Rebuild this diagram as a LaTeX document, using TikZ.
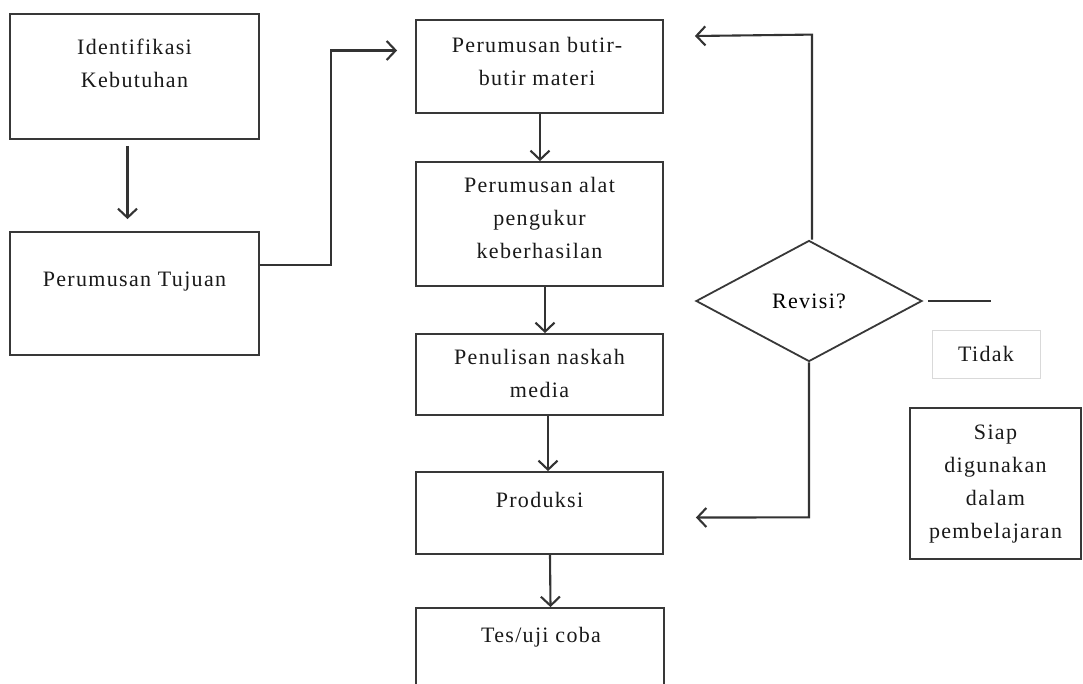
\documentclass[tikz,border=0pt]{standalone}
\usepackage{fontspec}
\setmainfont{Liberation Serif}[LetterSpace=6]
\usetikzlibrary{shapes.geometric,arrows.meta}
\tikzset{
  box/.style={draw=black!78, line width=1.8pt, rectangle, inner sep=0pt},
  txt/.style={align=center, font=\fontsize{22}{33}\selectfont, inner sep=0pt, text=black!90},
  arr/.style={draw=black!80, line width=2.1pt, -{Straight Barb[length=9pt,width=19pt,line width=2.1pt]}},
  ln/.style={draw=black!80, line width=2.1pt}
}
\begin{document}
\begin{tikzpicture}[x=1pt,y=-1pt]
\useasboundingbox (0,0) rectangle (1083,684);
\clip (0,0) rectangle (1083,684);
% left column
\node[box, minimum width=249pt, minimum height=125pt] (b1) at (134.5,76.5) {};
\node[txt] (t1) at (134.5,63.5) {Identifikasi\\Kebutuhan};
\node[box, minimum width=249pt, minimum height=123pt] (b2) at (134.5,293.5) {};
\node[txt] (t2) at (134.5,282) {Perumusan Tujuan};
% middle column
\node[box, minimum width=247pt, minimum height=93pt] (m1) at (539.5,66.5) {};
\node[txt] (tm1) at (537,61) {Perumusan butir-\\butir materi};
\node[box, minimum width=247pt, minimum height=124pt] (m2) at (539.5,224) {};
\node[txt] (tm2) at (539.5,217.5) {Perumusan alat\\pengukur\\keberhasilan};
\node[box, minimum width=247pt, minimum height=81pt] (m3) at (539.5,374.5) {};
\node[txt] (tm3) at (539.5,373.5) {Penulisan naskah\\media};
\node[box, minimum width=247pt, minimum height=82pt] (m4) at (539.5,513) {};
\node[txt] (tm4) at (539.5,500) {Produksi};
\node[box, minimum width=248pt, minimum height=120pt] (m5) at (540,668) {};
\node[txt] (tm5) at (541,637) {Tes/uji coba};
% decision
\node[draw=black!78, line width=1.8pt, diamond, minimum width=226pt, minimum height=121pt, inner sep=0pt, font=\fontsize{22}{33}\selectfont] (d) at (809,301) {Revisi?};
\node[draw=black!15, line width=0.8pt, rectangle, minimum width=108pt, minimum height=48pt, inner sep=0pt] (tidak) at (986,354) {};
\node[txt] (ttidak) at (986,354) {Tidak};
\node[box, minimum width=171pt, minimum height=151pt] (siap) at (995.5,483.5) {};
\node[txt] (tsiap) at (995.5,484.5) {Siap\\digunakan\\dalam\\pembelajaran};
% connectors
\draw[arr] ([xshift=-7pt,yshift=-6pt]b1.south) -- ([xshift=-7pt,yshift=12pt]b2.north);
\draw[arr] ([yshift=28.5pt]b2.east) -- ++(71,0) |- ([xshift=-18pt,yshift=16pt]m1.west);
\draw[arr] ([xshift=0.5pt]m1.south) -- ([xshift=0.5pt]m2.north);
\draw[arr] ([xshift=5.5pt]m2.south) -- ([xshift=5.5pt]m3.north);
\draw[arr] ([xshift=8.5pt]m3.south) -- ([xshift=8.5pt]m4.north);
\draw[arr] ([xshift=10.5pt]m4.south) -- ([xshift=10.5pt]m5.north);
\draw[arr] ([xshift=3pt]d.north) -- ++(0,-205) -- ([xshift=31pt,yshift=30.5pt]m1.east);
\draw[arr] (d.south) -- ++(0,155) -- ([xshift=32pt,yshift=-4.5pt]m4.east);
\draw[ln] ([xshift=5pt]d.east) -- ++(63,0);
\end{tikzpicture}
\end{document}
